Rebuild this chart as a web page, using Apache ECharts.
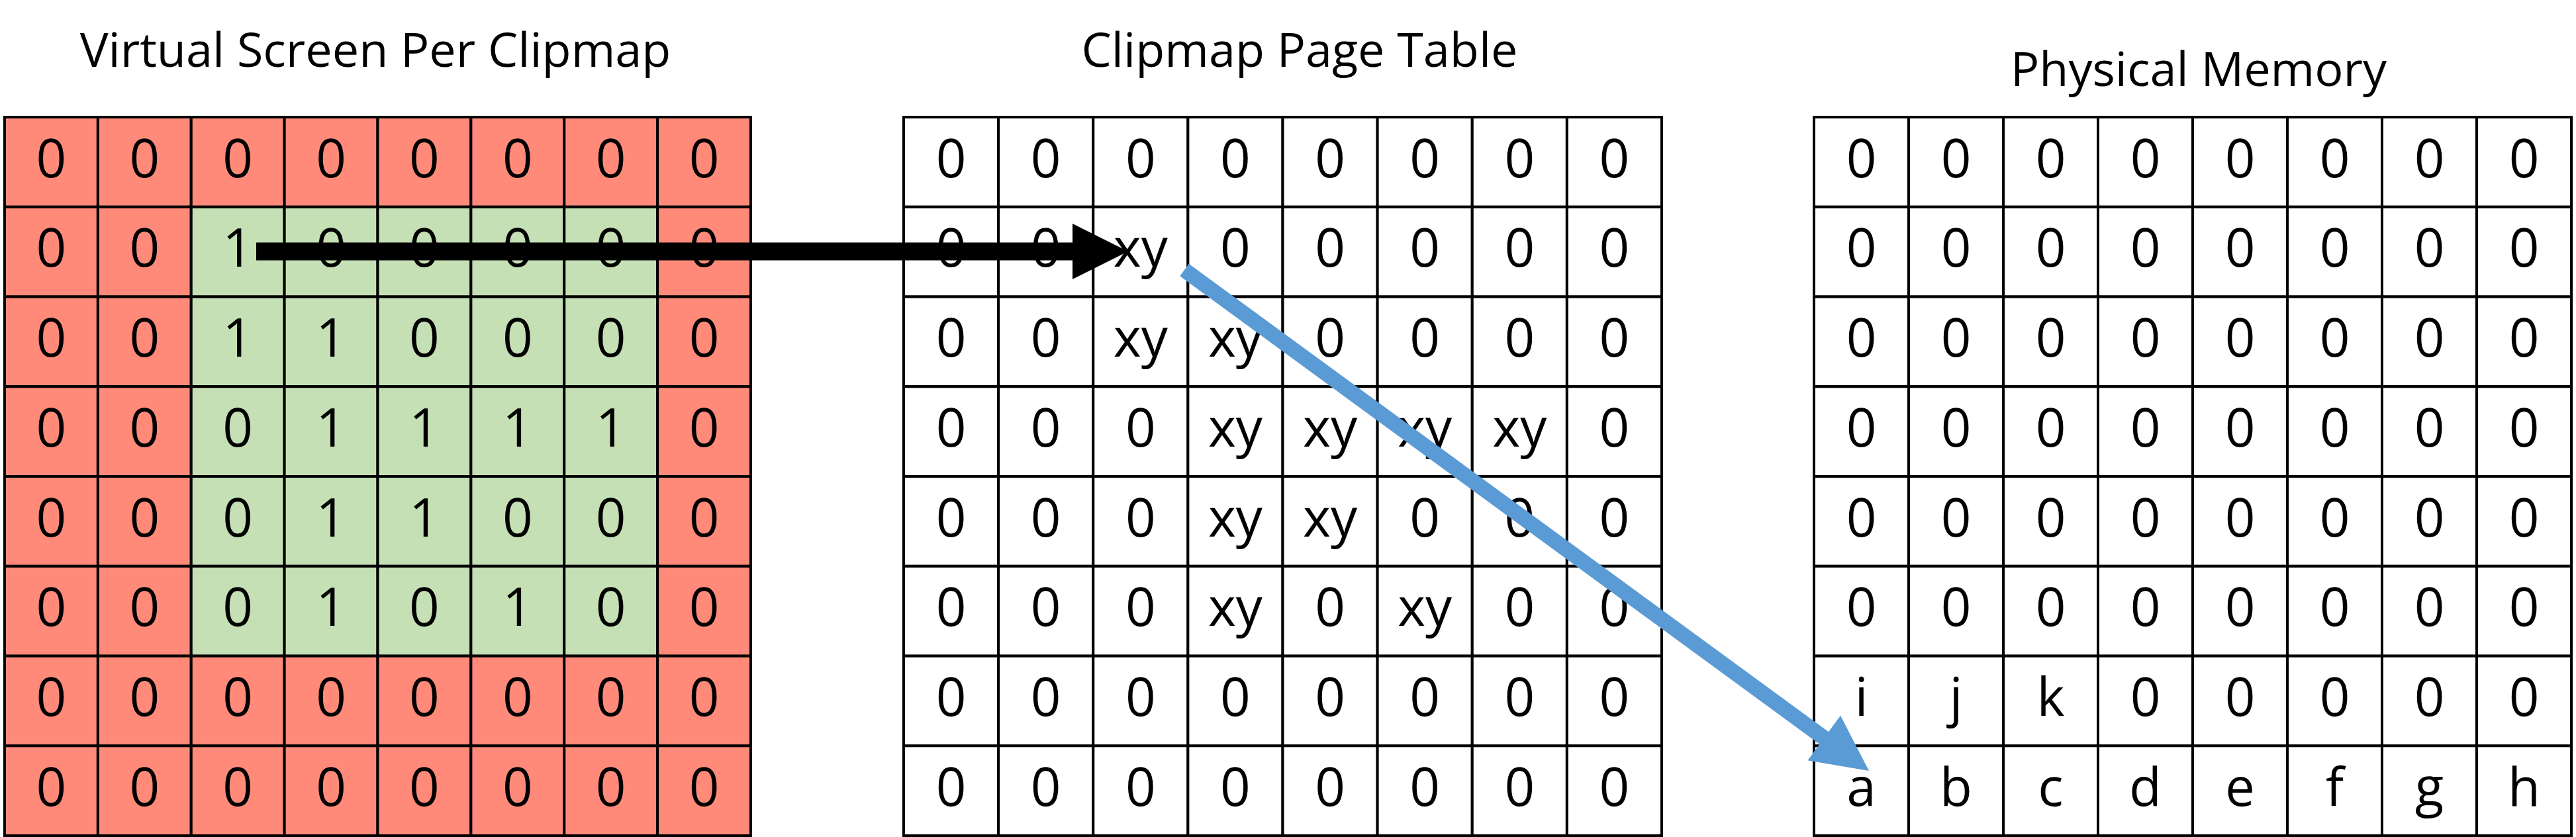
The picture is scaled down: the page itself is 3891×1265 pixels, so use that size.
<!DOCTYPE html>
<html lang="en">
<head>
    <meta charset="UTF-8">
    <title>Clipmap</title>
    <script src="https://cdn.jsdelivr.net/npm/echarts@6/dist/echarts.min.js"></script>
    <style>
        body{ margin:0; padding:0; background:#fff; }
        #main{ width:3891px; height:1265px; }
    </style>
</head>
<body>
<div id="main"></div>
<script>
// the three 8x8 tables, row by row, top to bottom
var virtualScreen = [
    ['0','0','0','0','0','0','0','0'],
    ['0','0','1','0','0','0','0','0'],
    ['0','0','1','1','0','0','0','0'],
    ['0','0','0','1','1','1','1','0'],
    ['0','0','0','1','1','0','0','0'],
    ['0','0','0','1','0','1','0','0'],
    ['0','0','0','0','0','0','0','0'],
    ['0','0','0','0','0','0','0','0']
];
// g = inside the clipmap region (green), r = outside (red)
var virtualRegion = [
    'rrrrrrrr',
    'rrgggggr',
    'rrgggggr',
    'rrgggggr',
    'rrgggggr',
    'rrgggggr',
    'rrrrrrrr',
    'rrrrrrrr'
];
var pageTable = [
    ['0','0','0','0','0','0','0','0'],
    ['0','0','xy','0','0','0','0','0'],
    ['0','0','xy','xy','0','0','0','0'],
    ['0','0','0','xy','xy','xy','xy','0'],
    ['0','0','0','xy','xy','0','0','0'],
    ['0','0','0','xy','0','xy','0','0'],
    ['0','0','0','0','0','0','0','0'],
    ['0','0','0','0','0','0','0','0']
];
var physicalMemory = [
    ['0','0','0','0','0','0','0','0'],
    ['0','0','0','0','0','0','0','0'],
    ['0','0','0','0','0','0','0','0'],
    ['0','0','0','0','0','0','0','0'],
    ['0','0','0','0','0','0','0','0'],
    ['0','0','0','0','0','0','0','0'],
    ['i','j','k','0','0','0','0','0'],
    ['a','b','c','d','e','f','g','h']
];
var titles = ['Virtual Screen Per Clipmap', 'Clipmap Page Table', 'Physical Memory'];

// layout (pixel space of the picture)
var boards = [
    {x0: 7,    x1: 1134, title: [567, 80]},
    {x0: 1365, x1: 2510, title: [1963, 80]},
    {x0: 2740, x1: 3884, title: [3321, 109]}
];
var boardTop = 177, boardBottom = 1263;
var colors = {r: '#FF8A7A', g: '#C5E0B4', w: '#FFFFFF'};

var cells = [];
[virtualScreen, pageTable, physicalMemory].forEach(function (tbl, b) {
    var bd = boards[b];
    var cw = (bd.x1 - bd.x0) / 8, ch = (boardBottom - boardTop) / 8;
    for (var r = 0; r < 8; r++) {
        for (var c = 0; c < 8; c++) {
            var fill = b === 0 ? virtualRegion[r][c] : 'w';
            cells.push([bd.x0 + c * cw, boardTop + r * ch, bd.x0 + (c + 1) * cw, boardTop + (r + 1) * ch, tbl[r][c], fill]);
        }
    }
});

var titleData = boards.map(function (bd, i) { return [bd.title[0], bd.title[1], titles[i]]; });

// arrows: start x, start y, tip x, tip y, colour, shaft width
var arrows = [
    [387, 380, 1704, 380, '#000000', 27],
    [1789, 408, 2823, 1165, '#5B9BD5', 23]
];

var chart = echarts.init(document.getElementById('main'), null, {renderer: 'canvas'});
chart.setOption({
    animation: false,
    grid: {left: 0, right: 0, top: 0, bottom: 0},
    xAxis: {type: 'value', min: 0, max: 3891, show: false},
    yAxis: {type: 'value', min: 0, max: 1265, inverse: true, show: false},
    series: [
        {
            type: 'custom',
            data: cells,
            z: 2,
            renderItem: function (params, api) {
                var p0 = api.coord([api.value(0), api.value(1)]);
                var p1 = api.coord([api.value(2), api.value(3)]);
                var d = cells[params.dataIndex];
                return {
                    type: 'group',
                    children: [
                        {type: 'rect', shape: {x: p0[0], y: p0[1], width: p1[0] - p0[0], height: p1[1] - p0[1]},
                         style: {fill: colors[d[5]], stroke: '#000', lineWidth: 4}},
                        {type: 'text', x: (p0[0] + p1[0]) / 2, y: (p0[1] + p1[1]) / 2,
                         style: {text: d[4], fill: '#000', font: '80px "Open Sans", sans-serif', align: 'center', verticalAlign: 'middle'}}
                    ]
                };
            }
        },
        {
            type: 'custom',
            data: titleData,
            z: 2,
            renderItem: function (params, api) {
                var p = api.coord([api.value(0), api.value(1)]);
                return {type: 'text', x: p[0], y: p[1],
                    style: {text: titleData[params.dataIndex][2], fill: '#000', font: '72px "Open Sans", sans-serif', align: 'center', verticalAlign: 'middle'}};
            }
        },
        {
            type: 'custom',
            data: arrows,
            z: 5,
            renderItem: function (params, api) {
                var a = arrows[params.dataIndex];
                var s = api.coord([a[0], a[1]]), t = api.coord([a[2], a[3]]);
                var dx = t[0] - s[0], dy = t[1] - s[1], len = Math.sqrt(dx * dx + dy * dy);
                var ux = dx / len, uy = dy / len, nx = -uy, ny = ux;
                var headL = 84, headW = 42, w = a[5] / 2;
                var bx = t[0] - ux * headL, by = t[1] - uy * headL;
                var pts = [
                    [s[0] + nx * w, s[1] + ny * w],
                    [bx + nx * w, by + ny * w],
                    [bx + nx * headW, by + ny * headW],
                    [t[0], t[1]],
                    [bx - nx * headW, by - ny * headW],
                    [bx - nx * w, by - ny * w],
                    [s[0] - nx * w, s[1] - ny * w]
                ];
                return {type: 'polygon', shape: {points: pts}, style: {fill: a[4]}};
            }
        }
    ]
});
</script>
</body>
</html>
